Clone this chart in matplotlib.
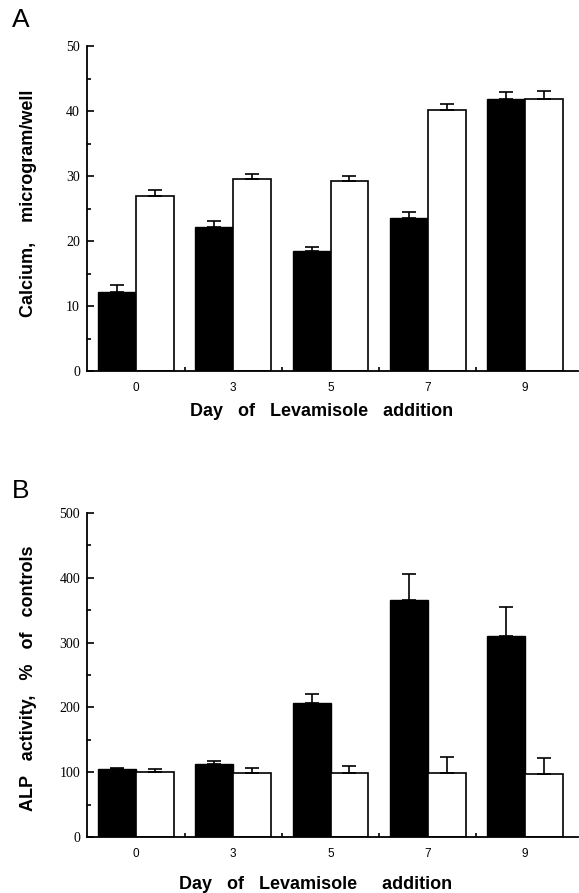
import matplotlib
matplotlib.use("Agg")
import matplotlib.pyplot as plt
import numpy as np

days = ["0", "3", "5", "7", "9"]

ca_treated = [12.2, 22.1, 18.5, 23.5, 41.8]
ca_treated_err = [1.0, 1.0, 0.6, 1.0, 1.2]
ca_control = [26.9, 29.5, 29.3, 40.1, 41.9]
ca_control_err = [1.0, 0.8, 0.7, 1.0, 1.2]

alp_treated = [105, 113, 207, 366, 310]
alp_treated_err = [2, 4, 14, 40, 45]
alp_control = [100, 99, 98, 98, 97]
alp_control_err = [5, 7, 12, 26, 25]

ylabel_a = "Calcium,    microgram/well"
ylabel_b = "ALP   activity,   %   of   controls"
xlabel_a = "Day   of   Levamisole   addition"
xlabel_b = "Day   of   Levamisole     addition"

fig = plt.figure(figsize=(5.79, 8.93), dpi=100)

def panel(rect, tr, tre, co, coe, ymax, ystep, ylabel, xlabel, letter, letter_y,
          ylab_pos, xlab_pos):
    ax = fig.add_axes(rect)
    x = np.arange(len(days))
    w = 0.39
    ax.bar(x - w / 2, tr, w, color="black", edgecolor="black", linewidth=1.0)
    ax.bar(x + w / 2, co, w, color="white", edgecolor="black", linewidth=1.2)
    ax.errorbar(x - w / 2, tr, yerr=[np.zeros(len(tr)), tre], fmt="none",
                ecolor="black", elinewidth=1.2, capsize=5, capthick=1.2)
    ax.errorbar(x + w / 2, co, yerr=[np.zeros(len(co)), coe], fmt="none",
                ecolor="black", elinewidth=1.2, capsize=5, capthick=1.2)
    ax.set_xlim(-0.504, 4.545)
    ax.set_ylim(0, ymax)
    ax.spines["top"].set_visible(False)
    ax.spines["right"].set_visible(False)
    ax.spines["left"].set_linewidth(1.3)
    ax.spines["bottom"].set_linewidth(1.3)
    ax.set_yticks(np.arange(0, ymax + 1, ystep))
    ax.set_yticks(np.arange(ystep / 2, ymax, ystep), minor=True)
    ax.tick_params(axis="y", which="major", direction="in", length=5, width=1.2,
                   labelsize=10, pad=5)
    ax.tick_params(axis="y", which="minor", direction="in", length=3, width=1.2)
    for lab in ax.get_yticklabels():
        lab.set_fontfamily("Liberation Serif")
    ax.set_xticks(x)
    ax.set_xticklabels(days)
    ax.set_xticks(x[:-1] + 0.5, minor=True)
    ax.tick_params(axis="x", which="major", length=0, labelsize=8.5, pad=8)
    ax.tick_params(axis="x", which="minor", direction="in", length=3, width=1.2)
    for lab in ax.get_xticklabels():
        lab.set_fontfamily("Liberation Sans")
    ax.set_ylabel(ylabel, fontsize=13, fontweight="bold",
                  fontfamily="Liberation Sans")
    ax.yaxis.set_label_coords(ylab_pos[0], ylab_pos[1])
    ax.set_xlabel(xlabel, fontsize=13, fontweight="bold",
                  fontfamily="Liberation Sans")
    ax.xaxis.set_label_coords(xlab_pos[0], xlab_pos[1])
    fig.text(12 / 579, letter_y, letter, fontsize=19, fontfamily="Liberation Sans",
             va="center", ha="left")
    return ax

panel([87 / 579, 1 - 371 / 893, (578 - 87) / 579, (371 - 46) / 893],
      ca_treated, ca_treated_err, ca_control, ca_control_err, 50, 10,
      ylabel_a, xlabel_a, "A", 1 - 20 / 893,
      (-(87 - 37) / 491, 0.515), (0.477, -(403 - 371) / 325))
panel([87 / 579, 1 - 837 / 893, (578 - 87) / 579, (837 - 513) / 893],
      alp_treated, alp_treated_err, alp_control, alp_control_err, 500, 100,
      ylabel_b, xlabel_b, "B", 1 - 491 / 893,
      (-(87 - 37) / 491, 0.49), (0.466, -(876 - 837) / 324))

fig.savefig("out.png", dpi=100)
